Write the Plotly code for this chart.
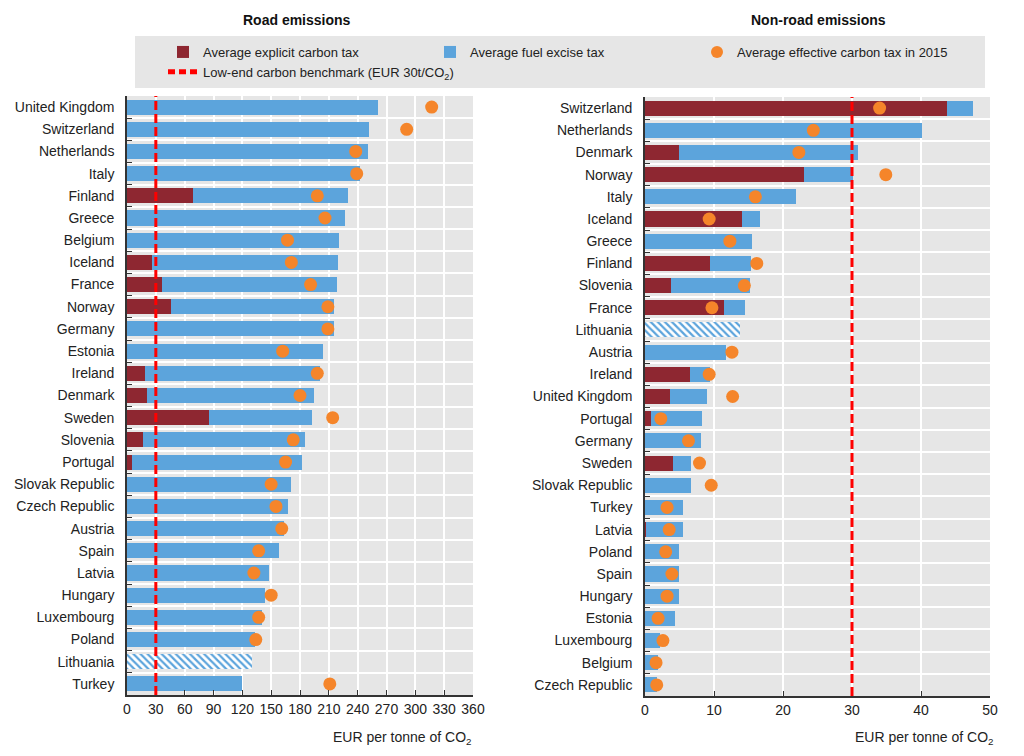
import plotly.graph_objects as go

# ---------------- data ----------------
road_countries = ["United Kingdom", "Switzerland", "Netherlands", "Italy", "Finland", "Greece",
                  "Belgium", "Iceland", "France", "Norway", "Germany", "Estonia", "Ireland",
                  "Denmark", "Sweden", "Slovenia", "Portugal", "Slovak Republic", "Czech Republic",
                  "Austria", "Spain", "Latvia", "Hungary", "Luxembourg", "Poland", "Lithuania", "Turkey"]
road_explicit = [0, 0, 0, 0, 69, 0, 0, 26, 36, 46, 0, 0, 19, 21, 85, 17, 5, 0, 0, 0, 0, 0, 0, 0, 0, 0, 0]
road_excise = [261, 252, 251, 242, 161, 227, 221, 194, 183, 169, 215, 204, 182, 174, 108, 168, 177,
               171, 167, 163, 158, 148, 144, 140, 133, 130, 120]
road_effective = [317, 291, 238, 239, 198, 206, 167, 171, 191, 209, 209, 162, 198, 180, 214, 173, 165,
                  150, 155, 161, 137, 132, 150, 137, 134, None, 211]

nonroad_countries = ["Switzerland", "Netherlands", "Denmark", "Norway", "Italy", "Iceland", "Greece",
                     "Finland", "Slovenia", "France", "Lithuania", "Austria", "Ireland", "United Kingdom",
                     "Portugal", "Germany", "Sweden", "Slovak Republic", "Turkey", "Latvia", "Poland",
                     "Spain", "Hungary", "Estonia", "Luxembourg", "Belgium", "Czech Republic"]
nonroad_explicit = [43.8, 0, 4.9, 23.1, 0, 14.0, 0, 9.4, 3.7, 11.5, 0, 0, 6.5, 3.6, 0.8, 0, 4.0, 0, 0,
                    0.2, 0, 0, 0, 0, 0, 0, 0]
nonroad_excise = [3.8, 40.2, 25.9, 7.1, 21.9, 2.6, 15.5, 6.0, 11.5, 3.0, 13.7, 11.7, 2.9, 5.4, 7.4, 8.1,
                  2.7, 6.7, 5.5, 5.3, 4.9, 4.9, 4.9, 4.4, 2.2, 1.9, 1.7]
nonroad_effective = [34.0, 24.4, 22.3, 34.9, 16.0, 9.3, 12.3, 16.2, 14.4, 9.7, None, 12.6, 9.3, 12.7, 2.3,
                     6.3, 7.9, 9.6, 3.2, 3.5, 3.0, 3.9, 3.2, 1.9, 2.6, 1.6, 1.7]

no_data_country = "Lithuania"  # hatched bar
BENCHMARK = 30

road_ticks = list(range(0, 361, 30))
nonroad_ticks = list(range(0, 51, 10))

# ---------------- styles ----------------
OFF = 8  # page body margin
W, H = 1024 - 2 * OFF, 756 - 2 * OFF
FONT = "Liberation Sans, Arial, sans-serif"
C_EXPL = "#8E2731"
C_EXC = "#5CA4DC"
C_DOT = "#F5852A"
C_BENCH = "#FF0000"
C_BG = "#E6E6E6"


def px_x(p):
    return (p - OFF) / W


def px_y(p):
    return 1 - (p - OFF) / H


fig = go.Figure()


def add_panel(countries, explicit, excise, effective, xa, ya, show):
    pat = ["\\" if c == no_data_country else "" for c in countries]
    fig.add_trace(go.Bar(
        y=countries, x=explicit, orientation="h", name="Average explicit carbon tax",
        marker=dict(color=C_EXPL, line=dict(width=0)), xaxis=xa, yaxis=ya,
        legendgroup="expl", showlegend=show))
    fig.add_trace(go.Bar(
        y=countries, x=excise, orientation="h", name="Average fuel excise tax",
        marker=dict(color=C_EXC, line=dict(width=0),
                    pattern=dict(shape=pat, fgcolor=C_EXC, bgcolor="white", fillmode="replace",
                                 size=5, solidity=0.45)),
        xaxis=xa, yaxis=ya, legendgroup="exc", showlegend=show))
    fig.add_trace(go.Scatter(
        y=countries, x=effective, mode="markers", name="Average effective carbon tax in 2015",
        marker=dict(color=C_DOT, size=13, line=dict(width=0)), xaxis=xa, yaxis=ya,
        legendgroup="eff", showlegend=show))


add_panel(road_countries, road_explicit, road_excise, road_effective, "x", "y", True)
add_panel(nonroad_countries, nonroad_explicit, nonroad_excise, nonroad_effective, "x2", "y2", False)

# legend-only entry for benchmark line
fig.add_trace(go.Scatter(x=[None], y=[None], mode="lines",
                         name="Low-end carbon benchmark (EUR 30t/CO<sub>2</sub>)",
                         line=dict(color=C_BENCH, width=3, dash="7px,4px"),
                         xaxis="x", yaxis="y", showlegend=True))

for xr in ["x", "x2"]:
    fig.add_shape(type="line", xref=xr, yref=("y domain" if xr == "x" else "y2 domain"),
                  x0=BENCHMARK, x1=BENCHMARK, y0=0, y1=1, layer="above",
                  line=dict(color=C_BENCH, width=3, dash="9px,4px"))

# legend background box
fig.add_shape(type="rect", xref="paper", yref="paper", x0=px_x(135), x1=px_x(985),
              y0=px_y(88), y1=px_y(36), fillcolor=C_BG, line=dict(width=0), layer="below")

ax_common = dict(showgrid=True, gridcolor="white", gridwidth=2, showline=True, linecolor="#333",
                 linewidth=2, ticks="inside", ticklen=5, tickcolor="#333", zeroline=False,
                 tickangle=0, automargin=False,
                 tickfont=dict(family=FONT, size=14, color="#222"))
y_common = dict(showgrid=True, gridcolor="white", gridwidth=2, showline=True, linecolor="#333",
                linewidth=2, ticks="inside", ticklen=5, tickcolor="#333", tickson="boundaries",
                range=[26.5, -0.5], automargin=False,
                tickfont=dict(family=FONT, size=14, color="#222"), ticksuffix="  ")

fig.update_layout(
    width=W, height=H,
    margin=dict(l=0, r=0, t=0, b=0, autoexpand=False),
    paper_bgcolor="white", plot_bgcolor=C_BG,
    barmode="stack", bargap=0.32,
    font=dict(family=FONT, size=14, color="#222"),
    xaxis=dict(domain=[px_x(127), px_x(473)], range=[0, 360], tickvals=road_ticks,
               anchor="y", **ax_common),
    yaxis=dict(domain=[px_y(695), px_y(96)], anchor="x", **y_common),
    xaxis2=dict(domain=[px_x(645), px_x(990)], range=[0, 50], tickvals=nonroad_ticks,
                anchor="y2", **ax_common),
    yaxis2=dict(domain=[px_y(696), px_y(97)], anchor="x2", **y_common),
    legend=dict(orientation="h", x=px_x(163), y=px_y(37), xanchor="left", yanchor="top",
                bgcolor="rgba(0,0,0,0)", entrywidth=222, entrywidthmode="pixels",
                font=dict(family=FONT, size=13, color="#222"), traceorder="normal",
                tracegroupgap=0, itemsizing="constant"),
    showlegend=True,
    annotations=[
        dict(text="<b>Road emissions</b>", x=px_x(297), y=px_y(20), xref="paper", yref="paper",
             xanchor="center", yanchor="middle",
             showarrow=False, font=dict(family=FONT, size=14, color="#111")),
        dict(text="<b>Non-road emissions</b>", x=px_x(818), y=px_y(20), xref="paper", yref="paper",
             xanchor="center", yanchor="middle",
             showarrow=False, font=dict(family=FONT, size=14, color="#111")),
        dict(text="EUR per tonne of CO<sub>2</sub>", x=px_x(474), y=px_y(738), xref="paper",
             yref="paper", xanchor="right", yanchor="middle", showarrow=False,
             font=dict(family=FONT, size=14, color="#222")),
        dict(text="EUR per tonne of CO<sub>2</sub>", x=px_x(996), y=px_y(738), xref="paper",
             yref="paper", xanchor="right", yanchor="middle", showarrow=False,
             font=dict(family=FONT, size=14, color="#222")),
    ],
)

fig.write_html("out.html")
